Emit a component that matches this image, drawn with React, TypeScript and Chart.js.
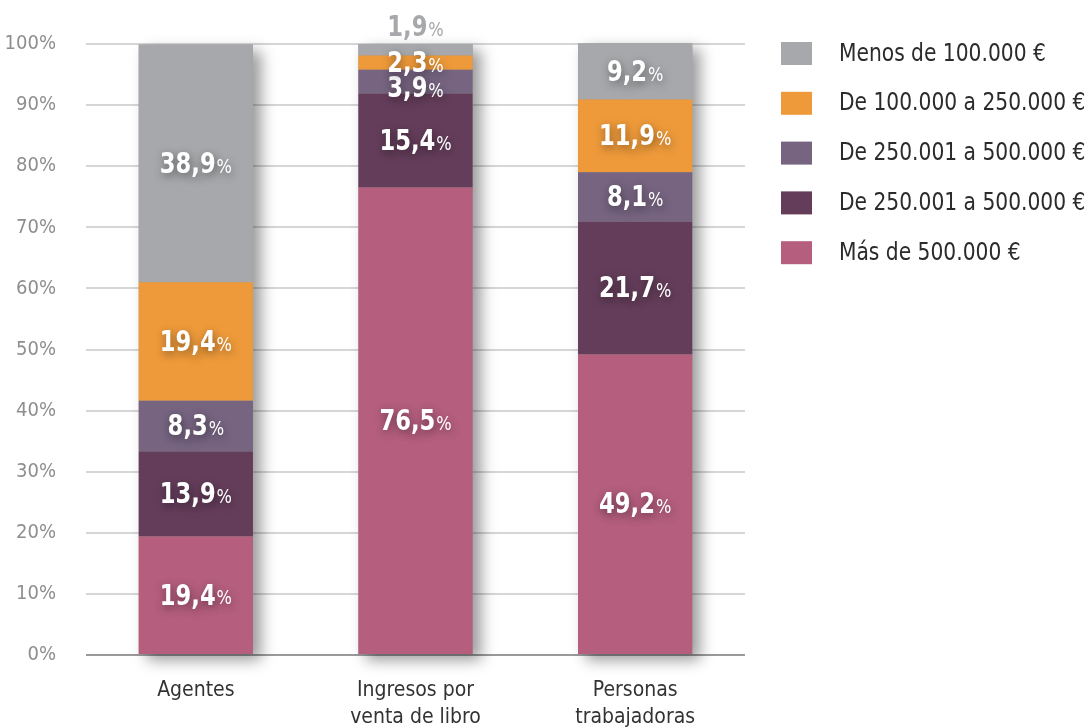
import React, { useEffect, useRef } from "react";
import { Chart, registerables } from "chart.js";

Chart.register(...registerables);

const categories: (string | string[])[] = ["Agentes", ["Ingresos por", "venta de libro"], ["Personas", "trabajadoras"]];
const seriesNames = [
  "Más de 500.000 €",
  "De 250.001 a 500.000 €",
  "De 250.001 a 500.000 €",
  "De 100.000 a 250.000 €",
  "Menos de 100.000 €",
];
const seriesColors = ["#B55E7E", "#643D5A", "#766480", "#EE9A3A", "#A7A8AB"];
const masDe500 = [19.4, 76.5, 49.2];
const de250b = [13.9, 15.4, 21.7];
const de250a = [8.3, 3.9, 8.1];
const de100 = [19.4, 2.3, 11.9];
const menos100 = [38.9, 1.9, 9.2];
const seriesValues = [masDe500, de250b, de250a, de100, menos100];
const yTicks = [0, 10, 20, 30, 40, 50, 60, 70, 80, 90, 100];
const legendOrder = [4, 3, 2, 1, 0];

const COND = '"DejaVu Sans Condensed", "DejaVu Sans", sans-serif';

const fmt = (v: number) => v.toFixed(1).replace(".", ",");

const shadowPlugin = {
  id: "barShadow",
  beforeDatasetsDraw(chart: any) {
    const ctx = chart.ctx;
    const n = chart.data.labels.length;
    const last = chart.data.datasets.length - 1;
    for (let i = 0; i < n; i++) {
      const b0 = chart.getDatasetMeta(0).data[i] as any;
      const bt = chart.getDatasetMeta(last).data[i] as any;
      const p0 = b0.getProps(["x", "base", "width"], true);
      const pt = bt.getProps(["y"], true);
      ctx.save();
      ctx.shadowColor = "rgba(0,0,0,0.4)";
      ctx.shadowBlur = 14;
      ctx.shadowOffsetX = 8;
      ctx.shadowOffsetY = 6;
      ctx.fillStyle = "#999";
      ctx.fillRect(p0.x - p0.width / 2, pt.y, p0.width, p0.base - pt.y);
      ctx.restore();
    }
  },
};

const labelPlugin = {
  id: "segLabels",
  afterDatasetsDraw(chart: any) {
    const ctx = chart.ctx;
    const dsets = chart.data.datasets;
    const sx = 0.9;
    dsets.forEach((ds: any, di: number) => {
      const meta = chart.getDatasetMeta(di);
      meta.data.forEach((bar: any, i: number) => {
        const v = ds.data[i] as number;
        const p = bar.getProps(["x", "y", "base"], true);
        let cy = (p.y + p.base) / 2 + 2;
        let color = "#ffffff";
        let shadow = true;
        const above = dsets[di + 1] ? (dsets[di + 1].data[i] as number) : null;
        if (v < 2 && di === dsets.length - 1) {
          cy = p.y - 15;
          color = "#A7A8AB";
          shadow = false;
        } else if (v < 5 && above !== null && above >= 2 && above < 5) {
          cy += 6;
        }
        const num = fmt(v);
        ctx.save();
        ctx.textBaseline = "middle";
        ctx.textAlign = "left";
        ctx.font = `bold 28px ${COND}`;
        const w1 = ctx.measureText(num).width;
        ctx.font = `20px ${COND}`;
        const w2 = ctx.measureText("%").width;
        const total = (w1 + w2 + 1) * sx;
        ctx.translate(p.x - total / 2, cy);
        ctx.scale(sx, 1);
        if (shadow) {
          ctx.shadowColor = "rgba(0,0,0,0.45)";
          ctx.shadowBlur = 10;
          ctx.shadowOffsetX = 1;
          ctx.shadowOffsetY = 3;
        }
        ctx.fillStyle = color;
        ctx.font = `bold 28px ${COND}`;
        ctx.fillText(num, 0, 0);
        ctx.font = `20px ${COND}`;
        ctx.fillText("%", w1 + 1, 2);
        ctx.restore();
      });
    });
  },
};

const legendPlugin = {
  id: "customLegend",
  afterDraw(chart: any) {
    const ctx = chart.ctx;
    const x0 = chart.chartArea.right + 36;
    const y0 = chart.chartArea.top - 2;
    legendOrder.forEach((si, k) => {
      const y = y0 + k * 49.8;
      ctx.save();
      ctx.fillStyle = seriesColors[si];
      ctx.fillRect(x0, y, 31, 23);
      ctx.fillStyle = "#2b2b2b";
      ctx.font = `25px ${COND}`;
      ctx.textBaseline = "middle";
      ctx.textAlign = "left";
      ctx.translate(x0 + 58, y + 12);
      ctx.scale(0.9, 1);
      ctx.fillText(seriesNames[si], 0, 0);
      ctx.restore();
    });
  },
};

export default function App() {
  const ref = useRef<HTMLCanvasElement>(null);
  useEffect(() => {
    document.body.style.margin = "0";
    const chart = new Chart(ref.current!, {
      type: "bar",
      data: {
        labels: categories,
        datasets: seriesValues.map((vals, i) => ({
          label: seriesNames[i],
          data: vals,
          backgroundColor: seriesColors[i],
          borderWidth: 0,
          barPercentage: 0.52,
          categoryPercentage: 1,
        })),
      },
      options: {
        responsive: false,
        animation: false,
        layout: { padding: { top: 44, right: 346, left: 0, bottom: 0 } },
        plugins: { legend: { display: false }, tooltip: { enabled: false } },
        scales: {
          x: {
            stacked: true,
            grid: { display: false },
            border: { display: false },
            ticks: {
              color: "#333333",
              font: { family: COND, size: 21, lineHeight: 1.3 },
              padding: 14,
              maxRotation: 0,
            },
            afterFit(scale: any) {
              scale.height = 73;
            },
          },
          y: {
            stacked: true,
            min: 0,
            max: 100,
            afterBuildTicks(scale: any) {
              scale.ticks = yTicks.map((v) => ({ value: v }));
            },
            ticks: {
              color: "#8e8e8e",
              font: { family: COND, size: 20 },
              padding: 30,
              callback: (v: any) => `${v}%`,
            },
            grid: {
              drawTicks: false,
              lineWidth: 2,
              color: (c: any) => (c.tick && c.tick.value === 0 ? "#9a9a9a" : "#d6d6d6"),
            },
            border: { display: false },
            afterFit(scale: any) {
              scale.width = 86;
            },
          },
        },
      },
      plugins: [shadowPlugin, labelPlugin, legendPlugin],
    });
    return () => chart.destroy();
  }, []);
  return (
    <div style={{ position: "absolute", left: 0, top: 0, width: 1091, height: 728 }}>
      <canvas ref={ref} width={1091} height={728} />
    </div>
  );
}
